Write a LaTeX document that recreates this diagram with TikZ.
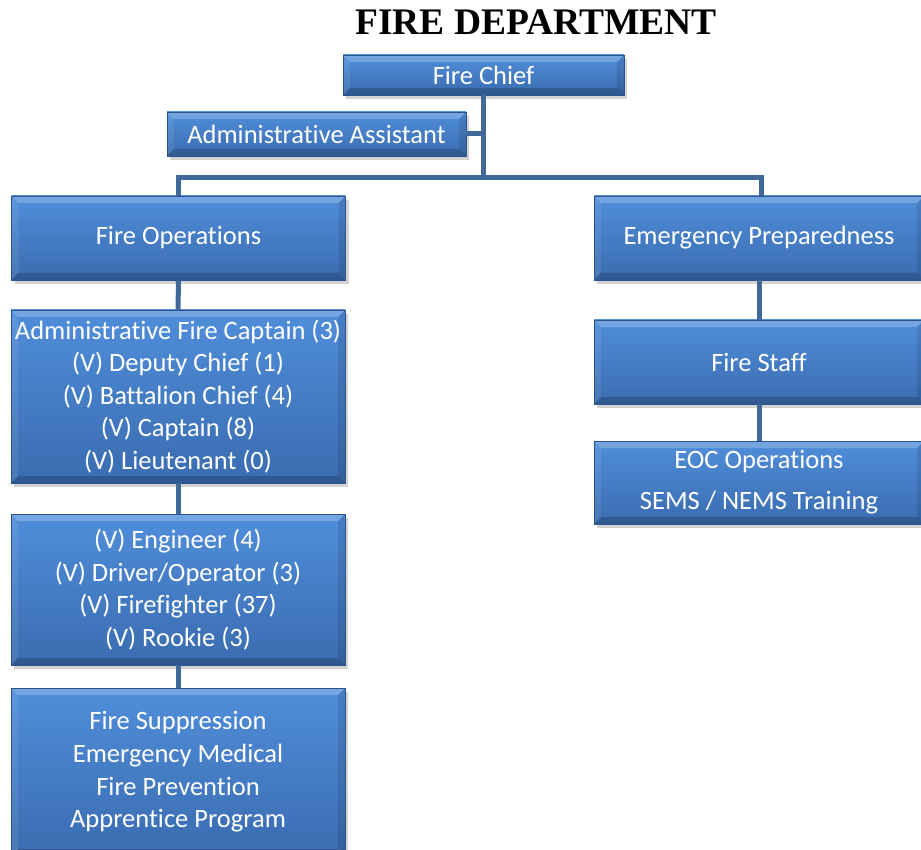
\documentclass[tikz,border=0pt]{standalone}
\usepackage{fontspec}
\setmainfont{Carlito}[Ligatures=NoCommon]
\newfontfamily\titlefont{Liberation Serif}
\usetikzlibrary{shadows}

\definecolor{boxtop}{RGB}{80,142,218}
\definecolor{boxbottom}{RGB}{58,108,176}
\definecolor{boxedge}{RGB}{44,84,140}
\definecolor{linkblue}{RGB}{64,104,152}

\tikzset{
	unit/.style={draw=boxedge, line width=0.6pt, top color=boxtop, bottom color=boxbottom,
		text=white, align=center, inner sep=0pt,
		font=\fontsize{26.5}{32.6}\selectfont,
		drop shadow={shadow xshift=3pt, shadow yshift=-4pt, opacity=0.35},
		path picture={
			\fill[white, opacity=0.22] (path picture bounding box.north west) -- (path picture bounding box.north east)
				-- ([xshift=-7pt,yshift=-7pt]path picture bounding box.north east) -- ([xshift=7pt,yshift=-7pt]path picture bounding box.north west) -- cycle;
			\fill[white, opacity=0.08] (path picture bounding box.north west) -- (path picture bounding box.south west)
				-- ([xshift=7pt,yshift=7pt]path picture bounding box.south west) -- ([xshift=7pt,yshift=-7pt]path picture bounding box.north west) -- cycle;
			\fill[black, opacity=0.18] (path picture bounding box.south west) -- (path picture bounding box.south east)
				-- ([xshift=-7pt,yshift=7pt]path picture bounding box.south east) -- ([xshift=7pt,yshift=7pt]path picture bounding box.south west) -- cycle;
			\fill[black, opacity=0.1] (path picture bounding box.north east) -- (path picture bounding box.south east)
				-- ([xshift=-7pt,yshift=7pt]path picture bounding box.south east) -- ([xshift=-7pt,yshift=-7pt]path picture bounding box.north east) -- cycle;
		}},
	link/.style={draw=linkblue, line width=5pt}
}

\begin{document}
\begin{tikzpicture}[x=1pt, y=1pt]
	\useasboundingbox (0,0) rectangle (921,-850);

	\node (title) at (536,-22) {\titlefont\bfseries\fontsize{37.5}{40}\selectfont FIRE DEPARTMENT};

	% top
	\node[unit, minimum width=281, minimum height=40] (chief) at (483.5,-75) {Fire Chief};
	\node[unit, minimum width=299, minimum height=44] (assist) at (316.5,-134) {Administrative Assistant};

	% left column
	\node[unit, minimum width=334, minimum height=84] (ops) at (178.5,-238) {Fire Operations};
	\node[unit, minimum width=334, minimum height=173] (captains) at (178,-396.5) {Administrative Fire Captain (3)\\(V) Deputy Chief (1)\\(V) Battalion Chief (4)\\(V) Captain (8)\\(V) Lieutenant (0)};
	\node[unit, minimum width=334, minimum height=151] (engineers) at (178,-589.5) {(V) Engineer (4)\\(V) Driver/Operator (3)\\(V) Firefighter (37)\\(V) Rookie (3)};
	\node[unit, minimum width=334, minimum height=168] (programs) at (178,-772) {Fire Suppression\\Emergency Medical\\Fire Prevention\\Apprentice Program};

	% right column
	\node[unit, minimum width=330, minimum height=84] (prep) at (759,-238) {Emergency Preparedness};
	\node[unit, minimum width=330, minimum height=84] (staff) at (759,-362) {Fire Staff};
	\node[unit, minimum width=330, minimum height=83, font=\fontsize{26.5}{41}\selectfont] (eoc) at (759,-482.5) {EOC Operations\\SEMS / NEMS Training};

	% connectors
	\coordinate (bus) at (483.5,-178);
	\draw[link] (chief.south) -- (bus);
	\draw[link] (assist.east) -- (assist.east -| bus);
	\draw[link] (ops.north) |- (bus) -| ([xshift=2pt]prep.north);
	\foreach \a/\b in {ops/captains, captains/engineers, engineers/programs, prep/staff, staff/eoc}
		\draw[link] (\a.south) -- (\b.north);
\end{tikzpicture}
\end{document}
